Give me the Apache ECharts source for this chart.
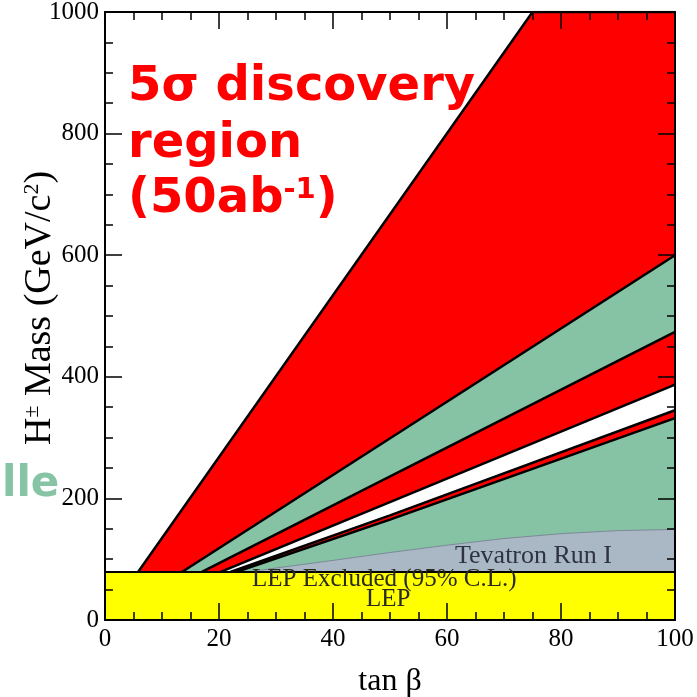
<!DOCTYPE html>
<html>
<head>
<meta charset="utf-8">
<script src="https://cdn.jsdelivr.net/npm/echarts@6/dist/echarts.min.js"></script>
<style>
  html, body { margin: 0; padding: 0; background: #fff; }
  #chart { width: 697px; height: 697px; }
</style>
</head>
<body>
<div id="chart"></div>
<script>
// band edges: tan(beta) values and H+ mass (GeV/c^2)
const edge1Tan = [5.8, 75, 100]
const edge1Mass = [79, 1000, 1000]
const edge2Tan = [13.5, 100]
const edge2Mass = [79, 600]
const edge3Tan = [17, 100]
const edge3Mass = [79, 474]
const edge4Tan = [20.3, 100]
const edge4Mass = [79, 387]
const edge5Tan = [22, 50, 100]
const edge5Mass = [79, 172, 345]
const edge6Tan = [23, 50, 100]
const edge6Mass = [79, 165, 332]
// Tevatron Run I exclusion
const tevTan = [25, 30, 40, 50, 60, 70, 80, 90, 100]
const tevMass = [79, 85.5, 98, 111, 123, 134, 142, 147, 149]
// LEP exclusion
const lepTan = [0, 100]
const lepMass = [79, 79]

const xTicks = { min: 0, max: 100, interval: 20 }
const yTicks = { min: 0, max: 1000, interval: 200 }

const RED = '#ff0000'
const GREEN = '#86c2a4'
const GREY = '#aab8c6'
const YELLOW = '#ffff00'

function zip(xs, ys) {
  return xs.map((x, i) => [x, ys[i]])
}

// 区域边界线 (填充到下方)
function band(name, xs, ys, fill, lineColor, lineWidth) {
  return {
    name: name,
    type: 'line',
    data: zip(xs, ys),
    symbol: 'none',
    silent: true,
    lineStyle: { color: lineColor, width: lineWidth },
    areaStyle: { color: fill, opacity: 1, origin: 'start' }
  }
}

const chart = echarts.init(document.getElementById('chart'))

const serif = '"Liberation Serif", "Times New Roman", serif'
const tickStyle = {
  axisLine: { show: true, onZero: false, lineStyle: { color: '#000', width: 2 } },
  axisTick: { show: true, inside: true, length: 17, lineStyle: { color: '#000', width: 1.5 } },
  minorTick: { show: true, splitNumber: 4, length: 8, lineStyle: { color: '#000', width: 1.5 } },
  splitLine: { show: false }
}

const option = {
  animation: false,
  backgroundColor: '#fff',
  grid: { left: 105, right: 22, top: 12, bottom: 77, outerBoundsMode: 'none', containLabel: false },
  xAxis: [
    {
      type: 'value', position: 'bottom', z: 10, ...xTicks, ...tickStyle,
      name: 'tan β', nameLocation: 'middle', nameGap: 46,
      nameTextStyle: { fontFamily: serif, fontSize: 32, color: '#000' },
      axisLabel: { fontFamily: serif, fontSize: 25, color: '#000', margin: 7, formatter: v => String(v) }
    },
    {
      type: 'value', position: 'top', z: 10, ...xTicks, ...tickStyle,
      axisLabel: { show: false }
    }
  ],
  yAxis: [
    {
      type: 'value', position: 'left', z: 10, ...yTicks, ...tickStyle,
      name: '{a|H}{s|±}{a| Mass (GeV/c}{s|2}{a|)}',
      nameLocation: 'middle', nameGap: 46, nameMoveOverlap: false,
      nameTextStyle: {
        color: '#000',
        padding: [0, 0, 0, 16],
        rich: {
          a: { fontFamily: serif, fontSize: 38, color: '#000' },
          s: { fontFamily: serif, fontSize: 22, color: '#000', verticalAlign: 'top' }
        }
      },
      axisLabel: { fontFamily: serif, fontSize: 25, color: '#000', margin: 6, formatter: v => String(v) }
    },
    {
      type: 'value', position: 'right', z: 10, ...yTicks, ...tickStyle,
      axisLabel: { show: false }
    }
  ],
  series: [
    band('edge1', edge1Tan, edge1Mass, RED, '#000', 2.5),
    band('edge2', edge2Tan, edge2Mass, GREEN, '#000', 2.5),
    band('edge3', edge3Tan, edge3Mass, RED, '#000', 2.5),
    band('edge4', edge4Tan, edge4Mass, '#ffffff', '#000', 2.5),
    band('edge5', edge5Tan, edge5Mass, RED, '#000', 2.5),
    band('edge6', edge6Tan, edge6Mass, GREEN, '#000', 2.5),
    band('tevatron', tevTan, tevMass, GREY, '#7d8a98', 1),
    band('lep', lepTan, lepMass, YELLOW, '#000', 2)
  ],
  graphic: [
    {
      type: 'text', left: 128, top: 64, z: 100,
      style: { text: '5σ discovery', fill: RED, font: 'bold 48px "DejaVu Sans", sans-serif' }
    },
    {
      type: 'text', left: 128, top: 121, z: 100,
      style: { text: 'region', fill: RED, font: 'bold 48px "DejaVu Sans", sans-serif' }
    },
    {
      type: 'text', left: 128, top: 176, z: 100,
      style: {
        text: '{b|(50ab}{s|-1}{b|)}',
        rich: {
          b: { fill: RED, font: 'bold 48px "DejaVu Sans", sans-serif' },
          s: { fill: RED, font: 'bold 29px "DejaVu Sans", sans-serif', verticalAlign: 'top' }
        }
      }
    },
    {
      type: 'text', left: 2, top: 464, z: 100,
      style: { text: 'lle', fill: '#86c4a5', font: 'bold 42px "DejaVu Sans", sans-serif' }
    },
    {
      type: 'text', left: 455, top: 543, z: 100,
      style: { text: 'Tevatron Run I', fill: '#2e3340', font: '26px ' + serif }
    },
    {
      type: 'text', left: 252, top: 567, z: 100,
      style: { text: 'LEP Excluded (95% C.L.)', fill: '#2a2a1a', font: '25px ' + serif }
    },
    {
      type: 'text', left: 366, top: 587, z: 100,
      style: { text: 'LEP', fill: '#2a2a1a', font: '25px ' + serif }
    }
  ]
}

chart.setOption(option)
</script>
</body>
</html>
